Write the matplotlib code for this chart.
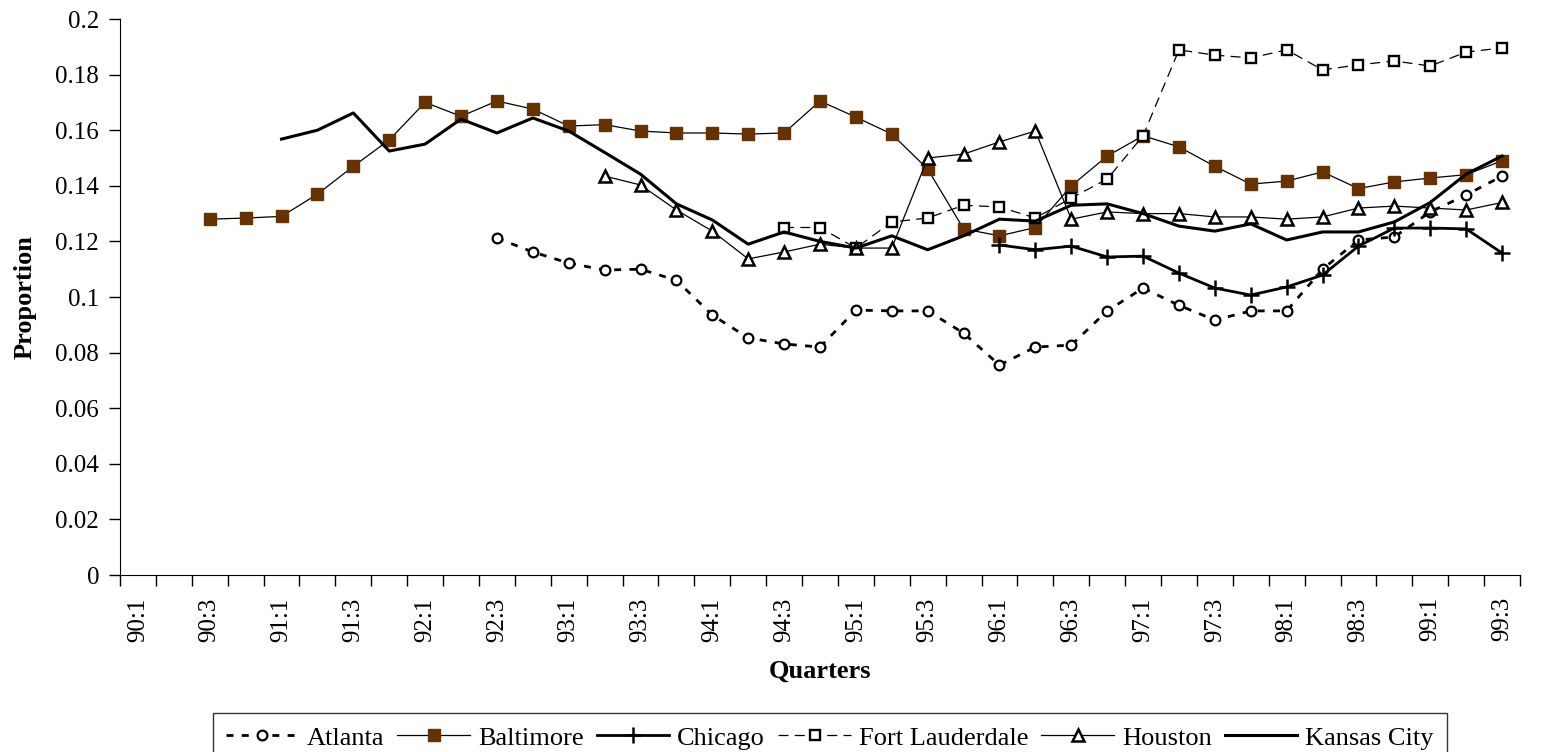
import numpy as np
import matplotlib
matplotlib.use('Agg')
import matplotlib.pyplot as plt

plt.rcParams['font.family'] = ['Liberation Serif', 'DejaVu Serif']

nan = np.nan

quarters = [f'{y}:{q}' for y in range(90, 100) for q in range(1, 5)][:39]

atlanta = [nan]*10 + [0.1212, 0.1162, 0.1122, 0.1097, 0.1100, 0.1060, 0.0935, 0.0853,
                      0.0831, 0.0820, 0.0953, 0.0950, 0.0950, 0.0870, 0.0755, 0.0820,
                      0.0827, 0.0950, 0.1032, 0.0970, 0.0917, 0.0950, 0.0950, 0.1100,
                      0.1205, 0.1216, 0.1306, 0.1367, 0.1435]
baltimore = [nan]*2 + [0.1280, 0.1284, 0.1290, 0.1370, 0.1470, 0.1565, 0.1700, 0.1650,
                       0.1705, 0.1676, 0.1615, 0.1620, 0.1597, 0.1590, 0.1590, 0.1586,
                       0.1590, 0.1705, 0.1647, 0.1586, 0.1460, 0.1245, 0.1220, 0.1250,
                       0.1400, 0.1507, 0.1580, 0.1540, 0.1470, 0.1406, 0.1417, 0.1450,
                       0.1390, 0.1414, 0.1428, 0.1440, 0.1490]
chicago = [nan]*24 + [0.1187, 0.1170, 0.1183, 0.1144, 0.1147, 0.1086, 0.1032, 0.1007,
                      0.1036, 0.1079, 0.1183, 0.1248, 0.1248, 0.1245, 0.1158]
fort_lauderdale = [nan]*18 + [0.1250, 0.1250, 0.1176, 0.1270, 0.1284, 0.1330, 0.1324,
                              0.1284, 0.1356, 0.1424, 0.1580, 0.1889, 0.1870, 0.1860,
                              0.1889, 0.1817, 0.1835, 0.1849, 0.1831, 0.1881, 0.1896]
houston = [nan]*13 + [0.1435, 0.1403, 0.1313, 0.1237, 0.1137, 0.1162, 0.1190, 0.1176,
                      0.1176, 0.1500, 0.1514, 0.1558, 0.1597, 0.1280, 0.1306, 0.1300,
                      0.1300, 0.1288, 0.1288, 0.1280, 0.1288, 0.1320, 0.1327, 0.1320,
                      0.1313, 0.1340]
kansas_city = [nan]*4 + [0.1568, 0.1600, 0.1662, 0.1525, 0.1550, 0.1640, 0.1590, 0.1644,
                         0.1597, 0.1520, 0.1442, 0.1335, 0.1277, 0.1190, 0.1234, 0.1200,
                         0.1176, 0.1220, 0.1170, 0.1220, 0.1280, 0.1273, 0.1330, 0.1335,
                         0.1300, 0.1255, 0.1237, 0.1263, 0.1205, 0.1234, 0.1234, 0.1270,
                         0.1340, 0.1442, 0.1507]

x = np.arange(len(quarters))
brown = '#663300'

fig = plt.figure(figsize=(15.41, 7.52), dpi=100)
ax = fig.add_axes([120/1541, 1-575/752, 1400/1541, 556/752])

ax.plot(x, atlanta, color='black', lw=2, ls=(0, (2.5, 3)), marker='o', ms=7,
        mfc='white', mec='black', mew=1.6, label='Atlanta')
ax.plot(x, baltimore, color='black', lw=0.9, marker='s', ms=9,
        mfc=brown, mec=brown, label='Baltimore')
ax.plot(x, chicago, color='black', lw=2, marker='+', ms=11, mew=1.8, label='Chicago')
ax.plot(x, fort_lauderdale, color='black', lw=0.9, ls=(0, (8, 5)), marker='s', ms=7,
        mfc='white', mec='black', mew=1.7, label='Fort Lauderdale')
ax.plot(x, houston, color='black', lw=0.9, marker='^', ms=8,
        mfc='white', mec='black', mew=1.8, label='Houston')
ax.plot(x, kansas_city, color='black', lw=2.2, label='Kansas City')

ax.set_xlim(-0.5, len(quarters) - 0.5)
ax.set_ylim(0, 0.2)
ax.spines['top'].set_visible(False)
ax.spines['right'].set_visible(False)

ax.set_yticks(np.arange(0, 0.201, 0.02))
ax.set_yticklabels(['0'] + [f'{v:g}' for v in np.arange(0.02, 0.201, 0.02)], fontsize=18)
ax.tick_params(axis='y', direction='out', length=8, width=1, pad=7)

ax.set_xticks(x[::2])
ax.set_xticklabels(quarters[::2], rotation=90, fontsize=18)
ax.set_xticks(np.arange(-0.5, len(quarters), 1), minor=True)
ax.tick_params(axis='x', which='major', length=0, pad=16)
ax.tick_params(axis='x', which='minor', direction='out', length=8, width=1)

ax.set_ylabel('Proportion', fontsize=19, fontweight='bold')
ax.yaxis.set_label_coords(-0.0593, 0.5)
ax.set_xlabel('Quarters', fontsize=19, fontweight='bold')
ax.xaxis.set_label_coords(0.5, -0.152)

leg = fig.legend(*ax.get_legend_handles_labels(), loc='upper center',
                 bbox_to_anchor=(830/1541, 1-713/752), ncol=6, fontsize=19,
                 frameon=True, fancybox=False, edgecolor='black', handlelength=2.75,
                 columnspacing=0.5, handletextpad=0.3, borderpad=0.5, borderaxespad=0)
leg.get_frame().set_linewidth(1)

fig.savefig('out.png', dpi=100)
